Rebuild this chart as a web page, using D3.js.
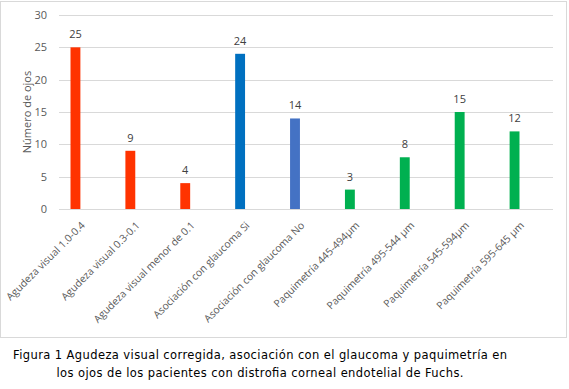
<!DOCTYPE html>
<meta charset="utf-8">
<body style="margin:0;background:#fff">
<script src="https://d3js.org/d3.v7.min.js"></script>
<script>
var categories = ["Agudeza visual 1.0-0.4", "Agudeza visual 0.3-0.1", "Agudeza visual menor de 0.1",
  "Asociación con glaucoma  Si", "Asociación con glaucoma  No",
  "Paquimetría  445-494µm", "Paquimetría 495-544 µm", "Paquimetría 545-594µm", "Paquimetría 595-645 µm"];
var values = [25, 9, 4, 24, 14, 3, 8, 15, 12];
var barColors = ["#ff3300", "#ff3300", "#ff3300", "#0070c0", "#4472c4", "#00b050", "#00b050", "#00b050", "#00b050"];
var yTicks = [0, 5, 10, 15, 20, 25, 30];
var caption = ["Figura 1 Agudeza visual corregida, asociación con el glaucoma y paquimetría en",
  "los ojos de los pacientes con distrofia corneal endotelial de Fuchs."];

var W = 569, H = 389;
var svg = d3.select("body").append("svg").attr("width", W).attr("height", H);

// chart frame
svg.append("rect").attr("x", 0.5).attr("y", 1.5).attr("width", 566).attr("height", 336)
  .attr("fill", "#fff").attr("stroke", "#d9d9d9");

var x = d3.scaleBand().domain(categories).range([48, 542]).paddingInner(0.82).paddingOuter(0.41);
var y = d3.scaleLinear().domain([0, 30]).range([209, 15]);

// gridlines
svg.append("g").selectAll("line").data(yTicks).enter().append("line")
  .attr("x1", 59).attr("x2", 553)
  .attr("y1", function(d) { return Math.round(y(d)) + 0.5; })
  .attr("y2", function(d) { return Math.round(y(d)) + 0.5; })
  .attr("stroke", "#d9d9d9");

// y axis labels
var yAxis = svg.append("g").attr("transform", "translate(49,0)")
  .call(d3.axisLeft(y).tickValues(yTicks).tickSize(0).tickPadding(2));
yAxis.select(".domain").remove();
yAxis.selectAll("text").attr("fill", "#595959").style("font-family", "Open Sans, sans-serif").style("font-size", "11px");

svg.append("text").attr("transform", "translate(31,112) rotate(-90)")
  .attr("text-anchor", "middle").attr("fill", "#595959")
  .style("font-family", "Open Sans, sans-serif").style("font-size", "11px")
  .text("Número de ojos");

// bars
svg.append("g").selectAll("rect").data(values).enter().append("rect")
  .attr("x", function(d, i) { return x(categories[i]); })
  .attr("y", function(d) { return y(d); })
  .attr("width", x.bandwidth())
  .attr("height", function(d) { return y(0) - y(d); })
  .attr("fill", function(d, i) { return barColors[i]; });

// value labels
svg.append("g").selectAll("text").data(values).enter().append("text")
  .attr("x", function(d, i) { return x(categories[i]) + x.bandwidth() / 2; })
  .attr("y", function(d) { return y(d) - 9; })
  .attr("text-anchor", "middle").attr("fill", "#404040")
  .style("font-family", "Open Sans, sans-serif").style("font-size", "11px")
  .text(function(d) { return d; });

// category labels
svg.append("g").selectAll("text").data(categories).enter().append("text")
  .attr("transform", function(d) {
    return "translate(" + (x(d) + x.bandwidth() / 2 + 5) + ",221) rotate(-45)";
  })
  .attr("text-anchor", "end").attr("dy", "0.7em").attr("fill", "#595959")
  .style("font-family", "Open Sans, sans-serif").style("font-size", "10.3px")
  .text(function(d) { return d; });

// caption (justified look)
var capWidths = [494, 407];
svg.append("g").selectAll("text").data(caption).enter().append("text")
  .attr("x", 260).attr("y", function(d, i) { return 359 + i * 18; })
  .attr("text-anchor", "middle").attr("fill", "#000")
  .attr("textLength", function(d, i) { return capWidths[i]; })
  .attr("lengthAdjust", "spacing")
  .style("font-family", "DejaVu Sans, sans-serif").style("font-size", "11.5px")
  .text(function(d) { return d; });
</script>
</body>
